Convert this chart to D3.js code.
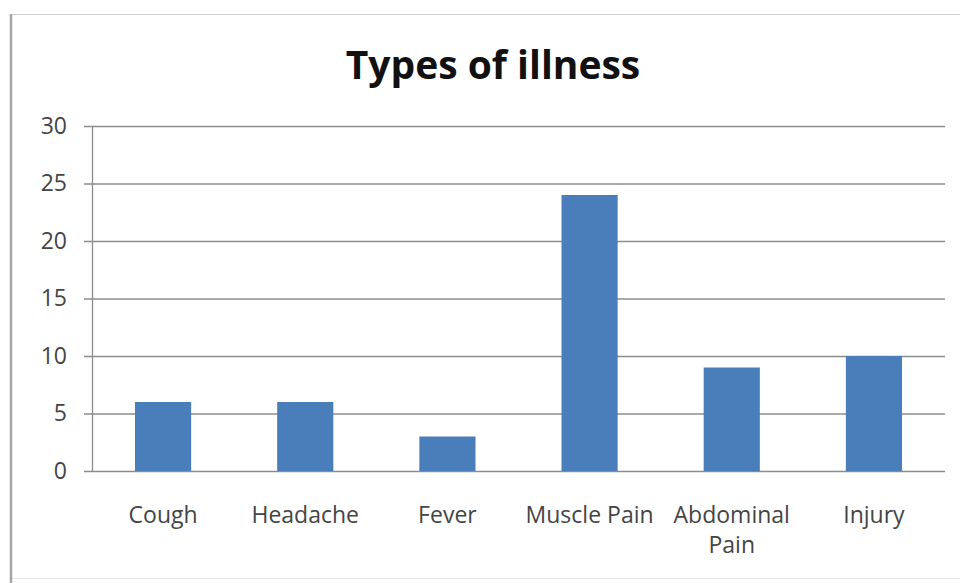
<!DOCTYPE html>
<html>
<head>
<meta charset="utf-8">
<script src="https://cdn.jsdelivr.net/npm/d3@7"></script>
<style>
  html, body { margin: 0; padding: 0; background: #fff; }
  svg { display: block; }
</style>
</head>
<body>
<svg id="chart" width="960" height="583"></svg>
<script>
// Illness counts by category
const categories = ["Cough", "Headache", "Fever", "Muscle Pain", "Abdominal Pain", "Injury"];
const counts = [6, 6, 3, 24, 9, 10];
const yTicks = [0, 5, 10, 15, 20, 25, 30];
const titleText = "Types of illness";

const svg = d3.select("#chart");
const W = 960, H = 583;
const plot = { left: 92, right: 945, top: 126, bottom: 471 };
const labelFont = "'Open Sans', sans-serif";

// chart frame
svg.append("line").attr("x1", 11).attr("x2", W).attr("y1", 14.5).attr("y2", 14.5)
  .attr("stroke", "#d0d0d0").attr("stroke-width", 1);
svg.append("line").attr("x1", 11).attr("x2", W).attr("y1", 578.5).attr("y2", 578.5)
  .attr("stroke", "#e6e6e6").attr("stroke-width", 1);
svg.append("line").attr("x1", 11).attr("x2", 11).attr("y1", 14).attr("y2", H)
  .attr("stroke", "#a6a6a6").attr("stroke-width", 2.5);

const x = d3.scaleBand()
  .domain(categories)
  .range([plot.left, plot.right])
  .paddingInner(0.605)
  .paddingOuter(0.3025);

const y = d3.scaleLinear()
  .domain([0, 30])
  .range([plot.bottom, plot.top]);

// horizontal gridlines (extend slightly left of the axis as tick marks)
const gy = svg.append("g")
  .attr("transform", `translate(${plot.right},0)`)
  .call(d3.axisLeft(y).tickValues(yTicks).tickSize(plot.right - plot.left + 8).tickFormat(""));
gy.select(".domain").remove();
gy.selectAll(".tick line").attr("stroke", "#8c8c8c").attr("stroke-width", 1.3);

// value axis line and labels
const gyl = svg.append("g")
  .attr("transform", `translate(${plot.left},0)`)
  .call(d3.axisLeft(y).tickValues(yTicks).tickSize(0).tickPadding(25).tickFormat(d3.format("d")));
gyl.select(".domain").attr("stroke", "#8c8c8c").attr("stroke-width", 1.3);
gyl.selectAll(".tick text")
  .attr("font-family", labelFont)
  .attr("font-size", 23)
  .attr("fill", "#454545");

// bars
svg.append("g").selectAll("rect")
  .data(categories.map((c, i) => ({ c, v: counts[i] })))
  .join("rect")
  .attr("x", d => x(d.c))
  .attr("width", x.bandwidth())
  .attr("y", d => y(d.v))
  .attr("height", d => y(0) - y(d.v))
  .attr("fill", "#4a7ebb");

// category labels (wrapped onto two lines where needed)
const wrapAt = { "Abdominal Pain": ["Abdominal", "Pain"] };
const gx = svg.append("g");
categories.forEach(c => {
  const lines = wrapAt[c] || [c];
  const cx = x(c) + x.bandwidth() / 2;
  const t = gx.append("text")
    .attr("x", cx)
    .attr("y", 523)
    .attr("text-anchor", "middle")
    .attr("font-family", labelFont)
    .attr("font-size", 23)
    .attr("fill", "#454545");
  lines.forEach((l, i) => {
    t.append("tspan")
      .attr("x", cx)
      .attr("dy", i === 0 ? 0 : 30)
      .text(l);
  });
});

// title
svg.append("text")
  .attr("x", 493)
  .attr("y", 79)
  .attr("text-anchor", "middle")
  .attr("font-family", labelFont)
  .attr("font-weight", "bold")
  .attr("font-size", 39)
  .attr("fill", "#111")
  .text(titleText);
</script>
</body>
</html>
